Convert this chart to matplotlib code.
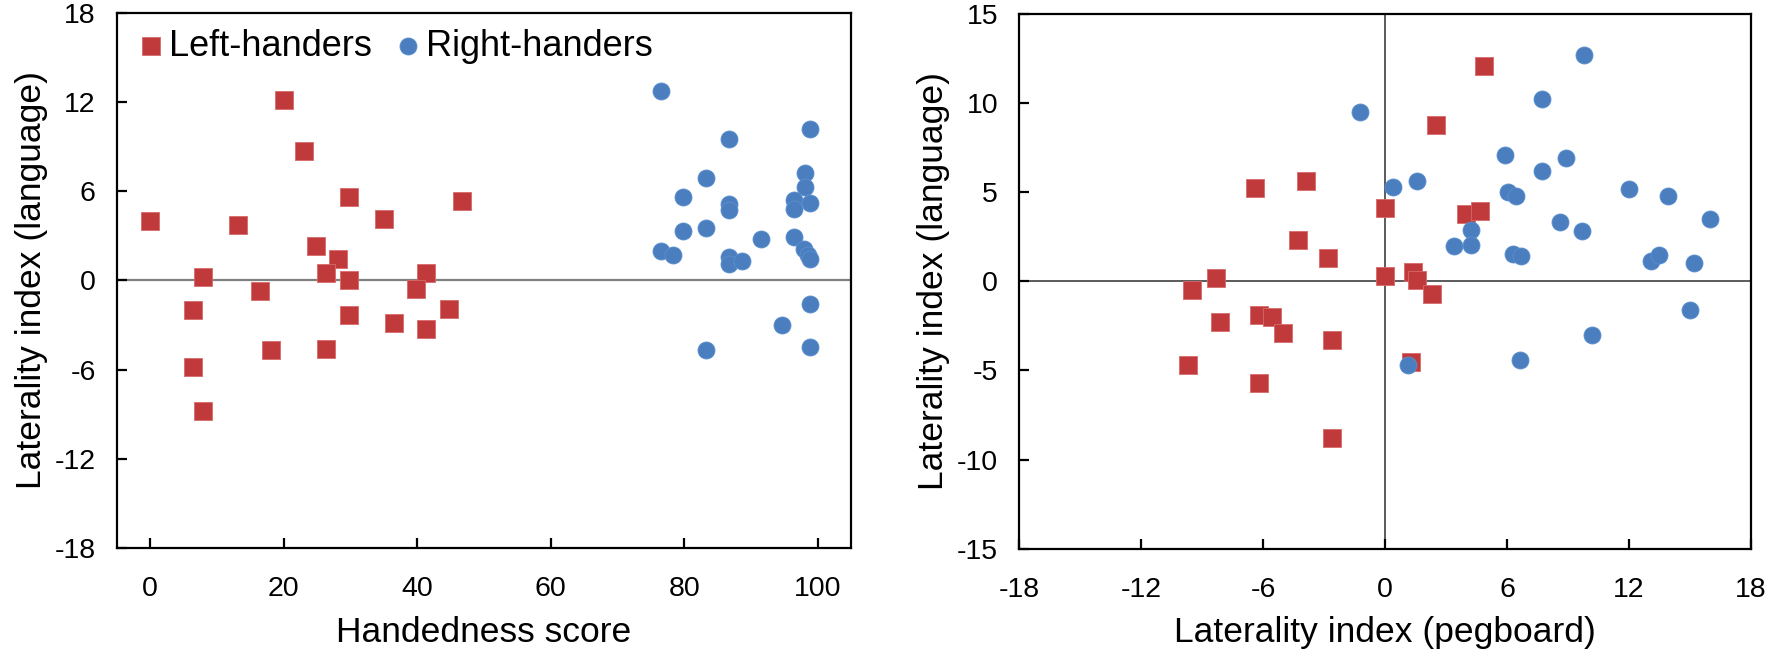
import matplotlib
matplotlib.use("Agg")
import matplotlib.pyplot as plt

plt.rcParams['font.family'] = ['Liberation Sans', 'DejaVu Sans']
plt.rcParams['axes.unicode_minus'] = False

# left panel: handedness score vs laterality index (language)
lh_hand = [0, 20, 23, 29.8, 46.7, 13.2, 35.0, 24.8, 28.2, 26.4, 29.8, 7.9,
           41.4, 39.9, 16.5, 6.4, 29.8, 44.8, 36.5, 41.4, 18.1, 26.4, 6.4, 8.0]
lh_lang = [4.0, 12.1, 8.7, 5.6, 5.3, 3.7, 4.1, 2.3, 1.4, 0.5, 0.0, 0.2,
           0.5, -0.6, -0.7, -2.0, -2.3, -1.9, -2.9, -3.3, -4.7, -4.6, -5.8, -8.8]

rh_hand = [76.6, 98.8, 86.7, 83.3, 98.1, 98.1, 79.9, 86.7, 86.7, 96.5, 96.5, 98.8,
           79.9, 83.3, 91.5, 96.5, 76.6, 78.4, 86.7, 86.7, 88.7, 98.0, 98.5, 98.8,
           98.8, 94.7, 98.8, 83.3]
rh_lang = [12.7, 10.2, 9.5, 6.9, 7.2, 6.3, 5.6, 5.1, 4.7, 5.4, 4.8, 5.2,
           3.3, 3.5, 2.8, 2.9, 2.0, 1.7, 1.6, 1.1, 1.3, 2.1, 1.7, 1.4,
           -1.6, -3.0, -4.5, -4.7]

# right panel: laterality index (pegboard) vs laterality index (language)
lh_peg = [-6.4, -3.9, -4.3, -2.8, -8.3, -9.5, 0.0, 0.0, -8.1, -6.2, -5.55, -5.0,
          -2.6, -9.7, -6.2, -2.6, 4.85, 2.5, 4.0, 4.65, 1.4, 1.6, 2.3, 1.3]
lh_lang2 = [5.25, 5.6, 2.3, 1.3, 0.2, -0.5, 4.1, 0.3, -2.3, -1.9, -2.0, -2.9,
            -3.3, -4.7, -5.7, -8.8, 12.1, 8.75, 3.75, 3.95, 0.5, 0.1, -0.7, -4.5]

rh_peg = [9.8, 7.7, -1.25, 5.9, 8.9, 7.7, 0.4, 1.6, 6.05, 6.45, 12.0, 13.9,
          16.0, 8.6, 9.7, 4.25, 4.25, 3.4, 6.3, 6.7, 13.1, 13.5, 15.2,
          15.0, 10.2, 6.65, 1.15]
rh_lang2 = [12.7, 10.2, 9.5, 7.1, 6.9, 6.2, 5.3, 5.6, 5.0, 4.8, 5.2, 4.8,
            3.5, 3.35, 2.8, 2.85, 2.05, 2.0, 1.55, 1.4, 1.15, 1.5, 1.0,
            -1.6, -3.0, -4.4, -4.7]

red = '#C0393B'
blue = '#4A7EBF'

fig = plt.figure(figsize=(17.69, 6.58), dpi=100)
ax1 = fig.add_axes([0.0659, 0.167, 0.4152, 0.814])
ax2 = fig.add_axes([0.576, 0.166, 0.4138, 0.813])


def style(ax):
    for s in ax.spines.values():
        s.set_linewidth(1.6)
        s.set_color('black')
    ax.tick_params(direction='in', length=7, width=1.6, labelsize=20.5)
    ax.tick_params(axis='x', pad=20)
    ax.tick_params(axis='y', pad=15)


ax1.axhline(0, color='#7f7f7f', lw=1.6, zorder=1)
ax1.scatter(lh_hand, lh_lang, marker='s', s=155, color=red, edgecolor='#d86a6a',
            linewidth=0.6, label='Left-handers', zorder=3)
ax1.scatter(rh_hand, rh_lang, marker='o', s=150, color=blue, edgecolor='#5b8fd0',
            linewidth=0.6, label='Right-handers', zorder=3)
ax1.set_xlim(-5, 105)
ax1.set_ylim(-18, 18)
ax1.set_xticks(range(0, 101, 20))
ax1.set_yticks(range(-18, 19, 6))
ax1.set_xlabel('Handedness score', fontsize=25.5, labelpad=10)
ax1.set_ylabel('Laterality index (language)', fontsize=25.5, labelpad=5)
style(ax1)
ax1.legend(loc='upper left', ncol=2, frameon=False, fontsize=26,
           handletextpad=0.0, columnspacing=0.5, borderaxespad=0.15,
           handlelength=1.0, markerscale=1.0, borderpad=0.3)

ax2.axhline(0, color='#404040', lw=1.2, zorder=1)
ax2.axvline(0, color='#404040', lw=1.2, zorder=1)
ax2.scatter(lh_peg, lh_lang2, marker='s', s=155, color=red, edgecolor='#d86a6a',
            linewidth=0.6, zorder=3)
ax2.scatter(rh_peg, rh_lang2, marker='o', s=150, color=blue, edgecolor='#5b8fd0',
            linewidth=0.6, zorder=3)
ax2.set_xlim(-18, 18)
ax2.set_ylim(-15, 15)
ax2.set_xticks(range(-18, 19, 6))
ax2.set_yticks(range(-15, 16, 5))
ax2.set_xlabel('Laterality index (pegboard)', fontsize=25.5, labelpad=10)
ax2.set_ylabel('Laterality index (language)', fontsize=25.5, labelpad=5)
style(ax2)

fig.savefig('out.png', dpi=100)
